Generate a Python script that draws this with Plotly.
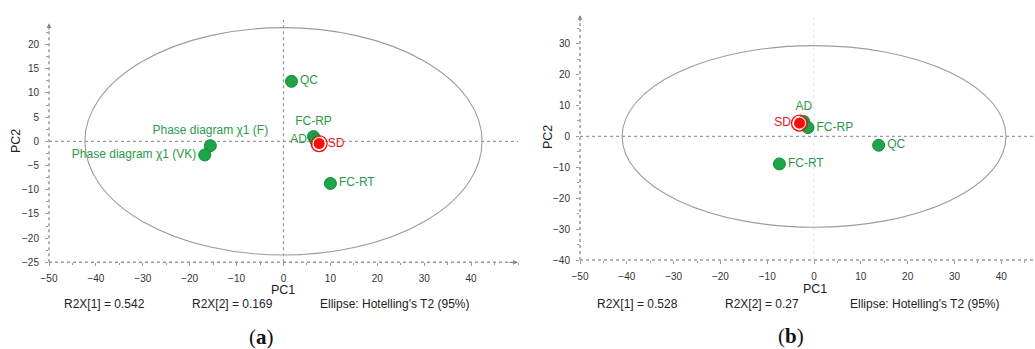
import plotly.graph_objects as go

W, H = 1035, 349

# ---------------- data ----------------
# Panel (a)
a_labels = ["QC", "FC-RP", "AD", "FC-RT", "Phase diagram χ1 (F)", "Phase diagram χ1 (VK)"]
a_pc1 = [1.7, 6.4, 6.8, 10.0, -15.6, -16.8]
a_pc2 = [12.4, 1.0, 0.3, -8.7, -0.9, -2.8]
a_textpos = ["middle right", "top center", "middle left", "middle right", "top center", "middle left"]
a_sd_pc1 = [7.6]
a_sd_pc2 = [-0.45]
a_ellipse = [42.35, 23.5]  # semi-axes PC1, PC2
a_r2x = ["R2X[1] = 0.542", "R2X[2] = 0.169", "Ellipse: Hotelling's T2 (95%)"]

# Panel (b)
b_labels = ["AD", "FC-RP", "QC", "FC-RT"]
b_pc1 = [-2.2, -1.3, 13.8, -7.4]
b_pc2 = [4.8, 2.85, -2.85, -8.9]
b_textpos = ["top center", "middle right", "middle right", "middle right"]
b_sd_pc1 = [-3.1]
b_sd_pc2 = [4.3]
b_ellipse = [41.0, 29.4]
b_r2x = ["R2X[1] = 0.528", "R2X[2] = 0.27", "Ellipse: Hotelling's T2 (95%)"]

x_ticks = [-50, -40, -30, -20, -10, 0, 10, 20, 30, 40]
a_y_ticks = [-25, -20, -15, -10, -5, 0, 5, 10, 15, 20]
b_y_ticks = [-40, -30, -20, -10, 0, 10, 20, 30]

# ---------------- styling ----------------
GREEN = "#1ea549"
GREEN_EDGE = "#12893a"
GREEN_TXT = "#2a9a48"
RED = "#ff0a0a"
RED_TXT = "#e8141b"
AX = "#9a9a9a"
FONT = "Liberation Sans, Arial, sans-serif"
LBL = 12

def px(x):
    return x / W

def py(y):
    return 1 - y / H

fig = go.Figure()

def add_panel(xa, ya, labels, xs, ys, tpos, sdx, sdy):
    fig.add_trace(go.Scatter(
        x=xs, y=ys, mode="markers+text", text=labels, textposition=tpos,
        textfont=dict(color=GREEN_TXT, size=LBL, family=FONT),
        marker=dict(size=12, color=GREEN, line=dict(color=GREEN_EDGE, width=1)),
        xaxis=xa, yaxis=ya, showlegend=False, cliponaxis=False))
    fig.add_trace(go.Scatter(
        x=sdx, y=sdy, mode="markers",
        marker=dict(size=16, color=RED, symbol="circle-open",
                    line=dict(color=RED, width=1.3)),
        xaxis=xa, yaxis=ya, showlegend=False, cliponaxis=False))

add_panel("x", "y", a_labels, a_pc1, a_pc2, a_textpos, a_sd_pc1, a_sd_pc2)
add_panel("x2", "y2", b_labels, b_pc1, b_pc2, b_textpos, b_sd_pc1, b_sd_pc2)

# SD filled markers with labels
fig.add_trace(go.Scatter(
    x=a_sd_pc1, y=a_sd_pc2, mode="markers+text", text=["SD"], textposition="middle right",
    textfont=dict(color=RED_TXT, size=LBL, family=FONT),
    marker=dict(size=12, color=RED, line=dict(color="white", width=1)),
    xaxis="x", yaxis="y", showlegend=False, cliponaxis=False))
fig.add_trace(go.Scatter(
    x=b_sd_pc1, y=b_sd_pc2, mode="markers+text", text=["SD"], textposition="middle left",
    textfont=dict(color=RED_TXT, size=LBL, family=FONT),
    marker=dict(size=12, color=RED, line=dict(color="white", width=1)),
    xaxis="x2", yaxis="y2", showlegend=False, cliponaxis=False))

tickfont = dict(size=10, color="#333333", family=FONT)

# panel geometry (pixels)
A_L, A_R, A_T, A_B = 49, 518, 23.3, 262.3
B_L, B_R, B_T, B_B = 580, 1035, 15, 260

common = dict(ticks="outside", ticklen=3, tickcolor=AX, tickfont=tickfont,
              showgrid=False, zeroline=False, showline=False, automargin=False)

fig.update_layout(
    width=W, height=H, margin=dict(l=0, r=0, t=0, b=0),
    paper_bgcolor="white", plot_bgcolor="white",
    xaxis=dict(domain=[px(A_L), px(A_R)], range=[-50, 50], tickvals=x_ticks,
               minor=dict(dtick=5, tick0=0, ticks="outside", ticklen=2, tickcolor=AX),
               anchor="y", ticklabelstandoff=4, **common),
    yaxis=dict(domain=[py(A_B), py(A_T)], range=[-25, 24.4], tickvals=a_y_ticks,
               minor=dict(dtick=2.5, tick0=0, ticks="outside", ticklen=2, tickcolor=AX),
               anchor="x", ticklabelstandoff=4, **common),
    xaxis2=dict(domain=[px(B_L), px(B_R)], range=[-50, 47.2], tickvals=x_ticks,
                minor=dict(dtick=5, tick0=0, ticks="outside", ticklen=2, tickcolor=AX),
                anchor="y2", ticklabelstandoff=4, **common),
    yaxis2=dict(domain=[py(B_B), py(B_T)], range=[-40, 39.3], tickvals=b_y_ticks,
                minor=dict(dtick=5, tick0=0, ticks="outside", ticklen=2, tickcolor=AX),
                anchor="x2", ticklabelstandoff=4, **common),
)

shapes = []
# ellipses
for (xr, yr, e) in [("x", "y", a_ellipse), ("x2", "y2", b_ellipse)]:
    shapes.append(dict(type="circle", xref=xr, yref=yr, x0=-e[0], x1=e[0], y0=-e[1], y1=e[1],
                       line=dict(color="#9c9c9c", width=1.1), layer="below"))
# zero lines and axis lines (dotted)
shapes += [
    dict(type="line", xref="x", yref="paper", x0=0, x1=0, y0=py(A_B), y1=py(20),
         line=dict(color=AX, width=1.2, dash="dot"), layer="below"),
    dict(type="line", xref="paper", yref="y", x0=px(A_L), x1=px(A_R), y0=0, y1=0,
         line=dict(color=AX, width=1.2, dash="dot"), layer="below"),
    dict(type="line", xref="paper", yref="paper", x0=px(A_L), x1=px(A_R - 8), y0=py(A_B), y1=py(A_B),
         line=dict(color=AX, width=1.5, dash="dot")),
    dict(type="line", xref="paper", yref="paper", x0=px(A_L), x1=px(A_L), y0=py(A_B), y1=py(A_T + 6),
         line=dict(color=AX, width=1.5, dash="dot")),
    dict(type="line", xref="x2", yref="paper", x0=0, x1=0, y0=py(B_B), y1=py(B_T),
         line=dict(color="#e2e2e2", width=1, dash="dot"), layer="below"),
    dict(type="line", xref="paper", yref="y2", x0=px(B_L), x1=1, y0=0, y1=0,
         line=dict(color=AX, width=1.2, dash="dot"), layer="below"),
    dict(type="line", xref="paper", yref="paper", x0=px(B_L), x1=1, y0=py(B_B), y1=py(B_B),
         line=dict(color=AX, width=1.5, dash="dot")),
    dict(type="line", xref="paper", yref="paper", x0=px(B_L), x1=px(B_L), y0=py(B_B), y1=py(B_T + 6),
         line=dict(color=AX, width=1.5, dash="dot")),
]
fig.update_layout(shapes=shapes)

ann = []
txt = dict(family=FONT, size=12, color="#222222")
# arrowheads at axis ends (tip position, pixel offset of tail)
for (x1, y1, dx, dy) in [(A_R, A_B, -10, 0), (A_L, A_T, 0, 8), (B_L, B_T, 0, 8)]:
    ann.append(dict(xref="paper", yref="paper", x=px(x1), y=py(y1), ax=dx, ay=dy,
                    axref="pixel", ayref="pixel", showarrow=True, arrowhead=2, arrowsize=0.8,
                    arrowwidth=1.2, arrowcolor="#888888", text=""))

def note(x, y, text, font, xanchor="center", angle=0):
    ann.append(dict(xref="paper", yref="paper", x=px(x), y=py(y), text=text, showarrow=False,
                    xanchor=xanchor, yanchor="middle", textangle=angle, font=font))

tfont = dict(family=FONT, size=12.5, color="#222222")
note(283, 290, "PC1", tfont)
note(16, 141, "PC2", tfont, angle=-90)
note(815, 288.5, "PC1", tfont)
note(548, 137, "PC2", tfont, angle=-90)
# R2X / ellipse texts
for t, x in zip(a_r2x, [62, 190, 318]):
    note(x, 303.5, t, txt, xanchor="left")
for t, x in zip(b_r2x, [595, 723, 848]):
    note(x, 303.5, t, txt, xanchor="left")
# captions
cfont = dict(family="Liberation Serif, Times New Roman, serif", size=21, color="#111111")
note(261, 337, "(<b>a</b>)", cfont)
note(791, 336, "(<b>b</b>)", cfont)
fig.update_layout(annotations=ann)

fig.write_html("out.html")
